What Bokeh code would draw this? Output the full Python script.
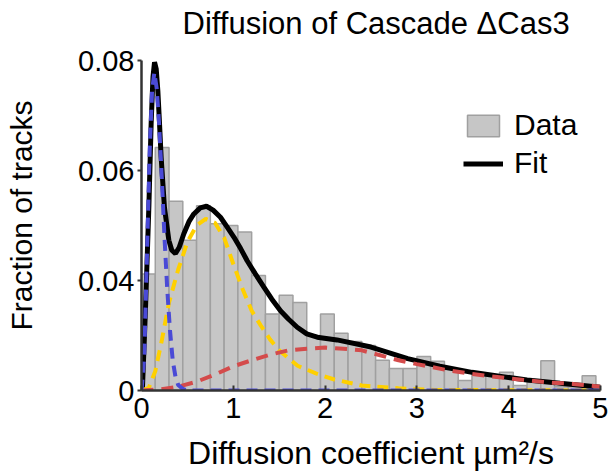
from bokeh.plotting import figure
from bokeh.models import Range1d, FixedTicker, Legend, LegendItem, Title, LinearAxis
from bokeh.embed import file_html
from bokeh.resources import INLINE

# ---- data ----
bin_width = 0.15
bin_starts = [round(i * bin_width, 2) for i in range(34)]
hist_fraction = [0.0412, 0.0642, 0.0544, 0.0473, 0.0536, 0.0503, 0.0500, 0.0488,
                 0.0409, 0.0339, 0.0373, 0.0360, 0.0300, 0.0339, 0.0304, 0.0289,
                 0.0282, 0.0255, 0.0240, 0.0240, 0.0262, 0.0253, 0.0238, 0.0218,
                 0.0229, 0.0227, 0.0233, 0.0209, 0.0215, 0.0254, 0.0207, 0.0207,
                 0.0227, 0.0207]

fit_x = [0.0, 0.01, 0.044, 0.08, 0.105, 0.125, 0.142, 0.16, 0.178, 0.195, 0.214,
         0.25, 0.298, 0.33, 0.37, 0.41, 0.461, 0.52, 0.57, 0.64, 0.708, 0.78,
         0.86, 0.93, 1.006, 1.08, 1.151, 1.24, 1.333, 1.42, 1.514, 1.6, 1.696,
         1.8, 1.914, 2.13, 2.5, 2.9, 3.25, 3.6, 4.2, 4.56, 5.0]
fit_y = [0.0200, 0.0203, 0.0351, 0.0533, 0.0685, 0.0770, 0.0797, 0.0785, 0.0745,
         0.0690, 0.0624, 0.0533, 0.0473, 0.0455, 0.0449, 0.0460, 0.0485, 0.0508,
         0.0521, 0.0532, 0.0535, 0.0528, 0.0515, 0.0498, 0.0479, 0.0458, 0.0436,
         0.0412, 0.0388, 0.0366, 0.0345, 0.0330, 0.0315, 0.0303, 0.0297, 0.0292,
         0.0279, 0.0258, 0.0244, 0.0233, 0.0219, 0.0213, 0.0206]

comp1_x = [0.0, 0.03, 0.06, 0.09, 0.115, 0.14, 0.165, 0.19, 0.22, 0.25, 0.28,
           0.31, 0.34, 0.37, 0.40, 0.45, 0.5, 5.0]
comp1_y = [0.0200, 0.0260, 0.0450, 0.0640, 0.0745, 0.0778, 0.0750, 0.0690, 0.0590,
           0.0480, 0.0385, 0.0310, 0.0255, 0.0225, 0.0210, 0.0203, 0.0200, 0.0200]

comp2_x = [0.0, 0.08, 0.15, 0.22, 0.3, 0.4, 0.5, 0.6, 0.7, 0.8, 0.9, 1.0, 1.1,
           1.2, 1.3, 1.4, 1.5, 1.7, 1.9, 2.1, 2.4, 2.8, 3.2, 5.0]
comp2_y = [0.0200, 0.0205, 0.0235, 0.0290, 0.0360, 0.0420, 0.0470, 0.0500, 0.0512,
           0.0505, 0.0478, 0.0430, 0.0385, 0.0345, 0.0318, 0.0293, 0.0273, 0.0245,
           0.0231, 0.0220, 0.0209, 0.0204, 0.0201, 0.0200]

comp3_x = [0.0, 0.2, 0.4, 0.6, 0.8, 1.0, 1.2, 1.4, 1.6, 1.8, 2.0, 2.2, 2.4, 2.6,
           2.8, 3.0, 3.3, 3.6, 4.0, 4.4, 4.7, 5.0]
comp3_y = [0.0200, 0.0202, 0.0207, 0.0216, 0.0229, 0.0244, 0.0255, 0.0265, 0.0273,
           0.0276, 0.0278, 0.0276, 0.0273, 0.0264, 0.0255, 0.0248, 0.0238, 0.0230,
           0.0222, 0.0215, 0.0212, 0.0207]

y_tick_values = [0.02, 0.04, 0.06, 0.08]
y_tick_labels = ["0", "0.04", "0.06", "0.08"]
x_tick_values = [0, 1, 2, 3, 4, 5]

title_text = "Diffusion of Cascade \u0394Cas3"
x_label_text = "Diffusion coefficient \u00b5m\u00b2/s"
y_label_text = "Fraction of tracks"

FONT = "Liberation Sans"

p = figure(width=608, height=475, output_backend="svg", toolbar_location=None,
           x_range=Range1d(0, 5), y_range=Range1d(0.02, 0.08),
           min_border_left=141, min_border_right=8, min_border_top=60,
           min_border_bottom=85)
p.outline_line_color = None
p.xgrid.visible = False
p.ygrid.visible = False
p.background_fill_color = "white"
p.border_fill_color = "white"

bars = p.quad(left=bin_starts, right=[b + bin_width for b in bin_starts],
              bottom=0.02, top=hist_fraction,
              fill_color="#C6C6C6", line_color="#A0A0A0", line_width=1.5)

fit = p.line(fit_x, fit_y, line_color="black", line_width=5)
p.line(comp2_x, comp2_y, line_color="#FFD000", line_width=4, line_dash="11 7")
p.line(comp3_x, comp3_y, line_color="#D44B4B", line_width=4, line_dash="12 8")
p.line(comp1_x, comp1_y, line_color="#4A4AD6", line_width=4, line_dash="11 7")

for ax in (p.xaxis[0], p.yaxis[0]):
    ax.axis_line_color = "#333333"
    ax.axis_line_width = 2.5
    ax.major_tick_line_color = "#333333"
    ax.major_tick_line_width = 2
    ax.minor_tick_line_color = None
    ax.major_label_text_font = FONT
    ax.major_label_text_font_size = "29px"
    ax.major_label_text_color = "black"
    ax.axis_label_text_font = FONT
    ax.axis_label_text_font_size = "32px"
    ax.axis_label_text_font_style = "normal"
    ax.axis_label_text_color = "black"

p.xaxis.ticker = FixedTicker(ticks=x_tick_values)
p.xaxis.major_tick_in = 5
p.xaxis.major_tick_out = 0
p.xaxis.major_label_standoff = 7
p.xaxis.axis_label = x_label_text
p.xaxis.axis_label_standoff = 14

p.yaxis.ticker = FixedTicker(ticks=y_tick_values)
p.yaxis.major_label_overrides = {v: l for v, l in zip(y_tick_values, y_tick_labels)}
p.yaxis.major_tick_in = 0
p.yaxis.major_tick_out = 4
p.yaxis.major_label_standoff = 3


def spacer(size, tick_at):
    # an empty (white) axis used only as a gap between the frame and a side title
    return LinearAxis(ticker=FixedTicker(ticks=[tick_at]), major_tick_out=size,
                      major_tick_in=0, major_label_standoff=0, axis_label_standoff=0,
                      axis_line_color=None, major_tick_line_color="white",
                      major_tick_line_width=1, major_label_text_color=None,
                      minor_tick_line_color=None, minor_tick_out=0)


# main title
p.add_layout(spacer(20, 2.5), "above")
p.add_layout(Title(text=title_text, align="left", offset=41, standoff=0,
                   text_font=FONT, text_font_size="31px", text_font_style="normal",
                   text_color="black"), "above")

# y-axis title
p.add_layout(spacer(38, 0.05), "left")
p.add_layout(Title(text=y_label_text, align="left", offset=60, standoff=0,
                   text_font=FONT, text_font_size="30px", text_font_style="normal",
                   text_color="black"), "left")

legend = Legend(items=[LegendItem(label="Data", renderers=[bars]),
                       LegendItem(label="Fit", renderers=[fit])],
                location=(322, 210))
legend.background_fill_alpha = 0
legend.border_line_color = None
legend.label_text_font = FONT
legend.label_text_font_size = "30px"
legend.label_text_color = "black"
legend.glyph_width = 40
legend.glyph_height = 27
legend.label_standoff = 11
legend.spacing = 4
legend.padding = 10
p.add_layout(legend)

open("out.html", "w").write(file_html(p, INLINE))
